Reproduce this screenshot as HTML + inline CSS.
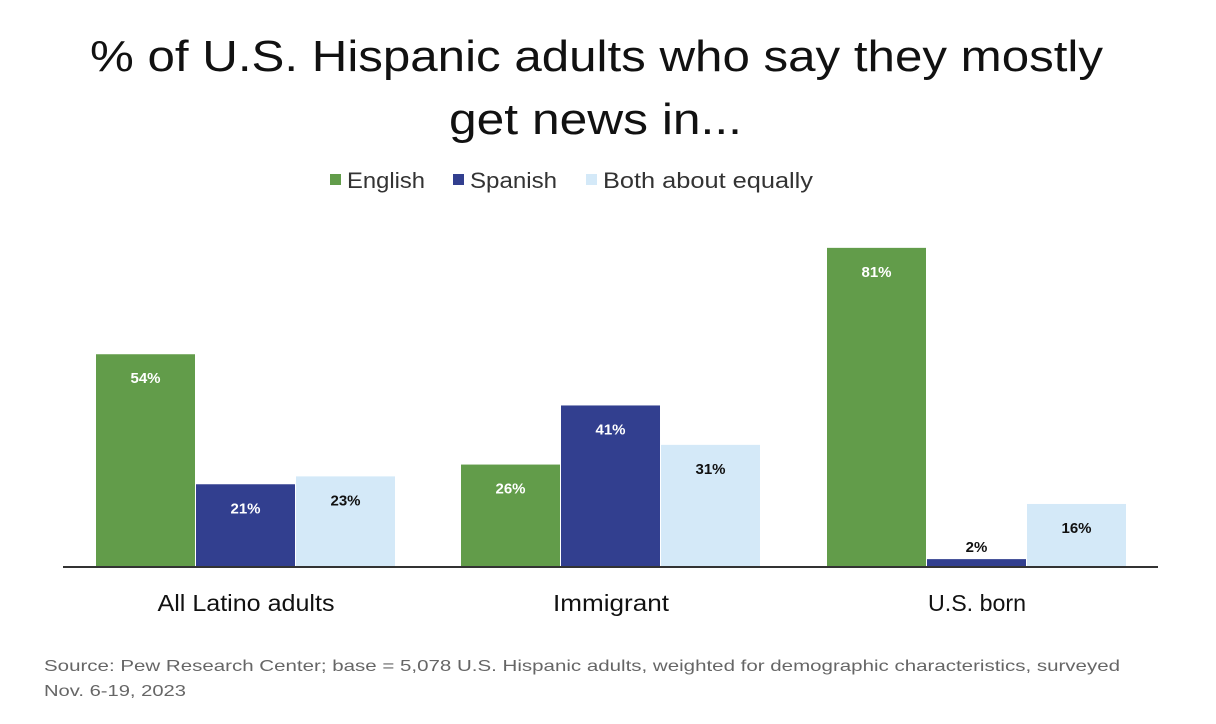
<!DOCTYPE html>
<html><head><meta charset="utf-8"><style>
body{margin:0;background:#fff;width:1216px;height:724px;overflow:hidden;font-family:"Liberation Sans",sans-serif}
svg{display:block}
</style></head><body>
<svg id="chart" width="1216" height="724" viewBox="0 0 1216 724">
<text x="90" y="71" textLength="1013" lengthAdjust="spacingAndGlyphs" font-size="44" fill="#111">% of U.S. Hispanic adults who say they mostly</text>
<text x="449" y="134" textLength="293" lengthAdjust="spacingAndGlyphs" font-size="44" fill="#111">get news in...</text>
<g id="legend"></g>
<g id="bars"></g>
<line x1="63" y1="567" x2="1158" y2="567" stroke="#333" stroke-width="2"/>
<text x="44" y="671" textLength="1076" lengthAdjust="spacingAndGlyphs" font-size="16" fill="#666">Source: Pew Research Center; base = 5,078 U.S. Hispanic adults, weighted for demographic characteristics, surveyed</text>
<text x="44" y="696" textLength="142" lengthAdjust="spacingAndGlyphs" font-size="16" fill="#666">Nov. 6-19, 2023</text>
</svg>
<script>
const categories=["All Latino adults","Immigrant","U.S. born"];
const seriesNames=["English","Spanish","Both about equally"];
const english=[54,26,81];
const spanish=[21,41,2];
const both=[23,31,16];
const series=[english,spanish,both];
const colors=["#629c4a","#323f8f","#d4e9f8"];
const labelColors=["#fff","#fff","#111"];
const catWidths=[177,116,98];
const legendWidths=[78,87,210];
const NS="http://www.w3.org/2000/svg";
const base=567, pxPer=3.94;
const groupStart=[96,461,827], barW=99;
function y(v){return base-v*pxPer;}
function mk(t,a,p){const e=document.createElementNS(NS,t);for(const k in a)e.setAttribute(k,a[k]);p.appendChild(e);return e;}
const bars=document.getElementById('bars');
categories.forEach((c,i)=>{
  series.forEach((s,j)=>{
    const x=groupStart[i]+j*(barW+1);
    const r=mk('rect',{x:x,y:y(s[i]),width:barW,height:base-y(s[i]),fill:colors[j]},bars);
    
    
    const small=(base-y(s[i]))<30;
    const t=mk('text',{x:x+barW/2,y:small?y(s[i])-7:y(s[i])+29,'text-anchor':'middle','font-size':15,'font-weight':'bold',fill:small?'#111':labelColors[j]},bars);
    t.textContent=s[i]+'%';
    
    
  });
  const ct=mk('text',{x:groupStart[i]+150-catWidths[i]/2,y:611,textLength:catWidths[i],lengthAdjust:'spacingAndGlyphs','font-size':23,fill:'#111'},bars);
  ct.textContent=c;
  
  
});
const legend=document.getElementById('legend');
const lx=[330,453,586];
seriesNames.forEach((n,j)=>{
  const r=mk('rect',{x:lx[j],y:174,width:11,height:11,fill:colors[j]},legend);
  
  
  const t=mk('text',{x:lx[j]+17,y:188,textLength:legendWidths[j],lengthAdjust:'spacingAndGlyphs','font-size':22,fill:'#333'},legend);
  t.textContent=n;
  
  
});
</script>
</body></html>
